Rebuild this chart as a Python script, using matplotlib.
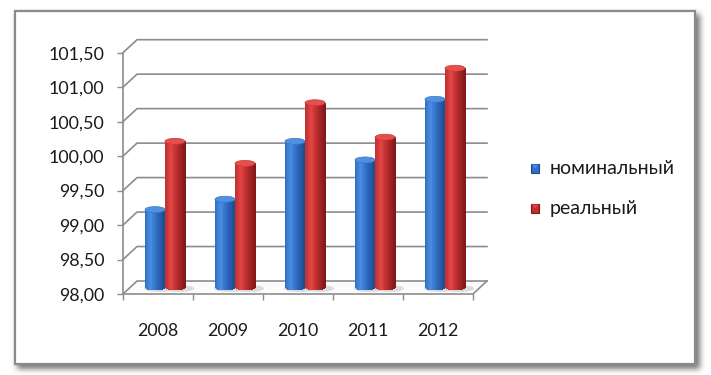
import numpy as np
import matplotlib
matplotlib.use('Agg')
import matplotlib.pyplot as plt
from matplotlib.patches import Rectangle, Ellipse, Polygon
from matplotlib.lines import Line2D
from matplotlib.transforms import IdentityTransform
import matplotlib.colors as mcolors

# ---------------- data ----------------
years = ['2008', '2009', '2010', '2011', '2012']
nominal = [99.13, 99.28, 100.12, 99.85, 100.73]
real = [100.12, 99.80, 100.68, 100.18, 101.18]
series_names = ['номинальный', 'реальный']
y_ticks = [98.0, 98.5, 99.0, 99.5, 100.0, 100.5, 101.0, 101.5]
y_tick_labels = ['98,00', '98,50', '99,00', '99,50', '100,00', '100,50', '101,00', '101,50']

FONT = ['Lato', 'Open Sans', 'DejaVu Sans']
plt.rcParams['font.family'] = FONT

W, H = 711, 375
fig = plt.figure(figsize=(W / 100, H / 100), dpi=100)

# ---------------- background frame with soft shadow ----------------
bg = fig.add_axes([0, 0, 1, 1])
bg.set_xlim(0, W)
bg.set_ylim(H, 0)
bg.axis('off')
mask = np.zeros((H, W))
mask[14:369, 17:700] = 1.0

def box_blur(a, r):
    k = 2 * r + 1
    p = np.pad(a, r, mode='constant')
    c = np.cumsum(np.cumsum(p, 0), 1)
    c = np.pad(c, ((1, 0), (1, 0)))
    return (c[k:, k:] - c[:-k, k:] - c[k:, :-k] + c[:-k, :-k]) / (k * k)

sh = box_blur(box_blur(mask, 3), 3)
rgba = np.zeros((H, W, 4))
rgba[..., :3] = 0.33
rgba[..., 3] = sh * 0.8
bg.imshow(rgba, extent=(0, W, H, 0), interpolation='bilinear', zorder=0)
bg.add_patch(Rectangle((15, 11), 680, 353, facecolor='white', edgecolor='#8a8a8a',
                       linewidth=1.6, zorder=1))

# ---------------- main (front) axes ----------------
X0, X1 = 123, 473      # front axis pixel extent
Y98, Y1015 = 294, 52.7
ax = fig.add_axes([X0 / W, 1 - Y98 / H, (X1 - X0) / W, (Y98 - Y1015) / H])
ax.patch.set_alpha(0)
n = len(years)
xs = np.arange(n)
ax.set_xlim(-0.5, n - 0.5)
ax.set_ylim(y_ticks[0], y_ticks[-1])

GRID = '#8c8c8c'
for s in ['top', 'right']:
    ax.spines[s].set_visible(False)
for s in ['left', 'bottom']:
    ax.spines[s].set_color(GRID)
    ax.spines[s].set_linewidth(1.2)

ax.set_yticks(y_ticks)
ax.set_yticklabels(y_tick_labels, fontsize=12.9, color='#1a1a1a')
ax.tick_params(axis='y', direction='out', length=4.5, width=1.0, color=GRID, pad=9)
ax.set_xticks(xs)
ax.set_xticklabels(years, fontsize=12.9, color='#1a1a1a')
ax.tick_params(axis='x', which='major', length=0, pad=21)
ax.set_xticks(np.arange(-0.5, n, 1.0), minor=True)
ax.tick_params(axis='x', which='minor', direction='out', length=4, width=1.0, color=GRID)

fig.canvas.draw()
D = ax.transData.transform
DX, DY = 14, 13          # back-wall depth offset (pixels)
MX, MY = 7, 6.5          # bars at mid depth
ID = IdentityTransform()

def pline(xs_, ys_, **kw):
    ax.add_line(Line2D(xs_, ys_, transform=ID, clip_on=False, **kw))

# floor
fl, fb = D((-0.5, y_ticks[0]))
fr, _ = D((n - 0.5, y_ticks[0]))
ax.add_patch(Polygon([(fl, fb), (fr, fb), (fr + DX, fb + DY), (fl + DX, fb + DY)],
                     closed=True, facecolor='#fbfbfb', edgecolor='none',
                     transform=ID, clip_on=False, zorder=0.5))
pline([fr, fr + DX], [fb, fb + DY], color=GRID, lw=1.2, zorder=1)

# gridlines on side + back wall
for v in y_ticks:
    x0, y0 = D((-0.5, v))
    xe, ye = D((n - 0.5, v))
    pline([x0, x0 + DX, xe + DX], [y0, y0 + DY, ye + DY], color=GRID, lw=1.2, zorder=1)

# ---------------- cylinders ----------------
bw = 0.286
palettes = {
    0: dict(dark='#1c4a8c', mid='#306fc6', light='#4a8de0', top='#4f90e0', topedge='#3a78c8'),
    1: dict(dark='#801818', mid='#bf2f2f', light='#e24646', top='#e45050', topedge='#c83636'),
}

def cyl_color(u, pal):
    cmap = mcolors.LinearSegmentedColormap.from_list(
        'c', [(0.0, pal['mid']), (0.3, pal['light']), (0.55, pal['mid']), (1.0, pal['dark'])])
    return cmap(u)

def draw_cyl(xc, val, pal):
    lx, by = D((xc - bw / 2, y_ticks[0]))
    rx, ty = D((xc + bw / 2, val))
    lx += MX; rx += MX; by += MY; ty += MY
    w = rx - lx
    r = 3.0
    ax.add_patch(Ellipse(((lx + rx) / 2 + 4, by - 1), w + 10, 7, facecolor='#cfcfcf',
                         edgecolor='none', alpha=0.7, transform=ID, clip_on=False, zorder=2))
    ns = 24
    for k in range(ns):
        u = (k + 0.5) / ns
        uu = 2 * u - 1
        e = r * np.sqrt(max(0.0, 1 - uu * uu))
        x = lx + k * w / ns
        ax.add_patch(Rectangle((x, by - e), w / ns + 0.6, (ty - (by - e)),
                               facecolor=cyl_color(u, pal), edgecolor='none',
                               transform=ID, clip_on=False, zorder=3))
    ax.add_patch(Ellipse(((lx + rx) / 2, ty), w, 2 * r, facecolor=pal['top'],
                         edgecolor=pal['topedge'], linewidth=0.5,
                         transform=ID, clip_on=False, zorder=4))

for i in range(n):
    draw_cyl(xs[i] - bw / 2, nominal[i], palettes[0])
    draw_cyl(xs[i] + bw / 2, real[i], palettes[1])

# ---------------- legend ----------------
leg_y = [168.5, 208.5]
for j, name in enumerate(series_names):
    pal = palettes[j]
    y = leg_y[j]
    bg.add_patch(Rectangle((531, y - 4.5), 8, 9, facecolor=pal['mid'],
                           edgecolor=pal['dark'], linewidth=0.8, zorder=5))
    bg.add_patch(Polygon([(531.5, y - 4), (538.5, y - 4), (535, y)], closed=True,
                         facecolor=pal['light'], edgecolor='none', zorder=6))
    bg.text(550, y, name, fontsize=14.0, color='#1a1a1a', va='center', ha='left',
            family=FONT, zorder=6)

fig.savefig('out.png', dpi=100)
